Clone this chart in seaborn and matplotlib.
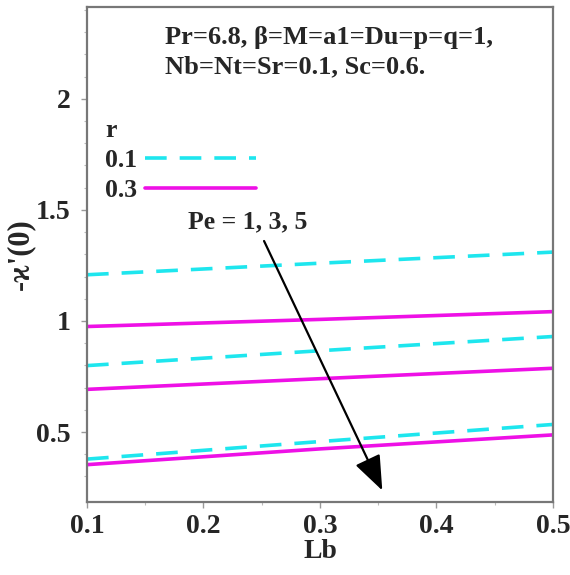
import matplotlib
matplotlib.use("Agg")
import matplotlib.pyplot as plt
from matplotlib.lines import Line2D
import seaborn as sns
import pandas as pd

# ---- data ----
lb = [0.1, 0.3, 0.5]
r01_pe1 = [1.208, 1.260, 1.310]
r01_pe3 = [0.799, 0.866, 0.930]
r01_pe5 = [0.378, 0.457, 0.534]
r03_pe1 = [0.975, 1.007, 1.042]
r03_pe3 = [0.692, 0.740, 0.787]
r03_pe5 = [0.353, 0.424, 0.487]
x_ticks = [0.1, 0.2, 0.3, 0.4, 0.5]
y_ticks = [0.5, 1, 1.5, 2]
y_tick_labels = ["0.5", "1", "1.5", "2"]

rows = []
for r, series in (("0.1", [r01_pe1, r01_pe3, r01_pe5]),
                  ("0.3", [r03_pe1, r03_pe3, r03_pe5])):
    for pe, vals in zip([1, 3, 5], series):
        for x, v in zip(lb, vals):
            rows.append({"Lb": x, "val": v, "r": r, "Pe": pe})
df = pd.DataFrame(rows)

sns.set_theme(style="white")
serif = ["Liberation Serif", "DejaVu Serif"]
plt.rcParams["font.family"] = serif
plt.rcParams["font.weight"] = "bold"

fig = plt.figure(figsize=(5.7, 5.75), dpi=100)
ax = fig.add_axes([0.1526, 0.127, 0.8175, 0.861])

colors = {"0.1": "#1ee6ee", "0.3": "#ee10e6"}
for (r, pe), g in df.groupby(["r", "Pe"]):
    sns.lineplot(data=g, x="Lb", y="val", ax=ax, color=colors[r],
                 linewidth=2.6, legend=False,
                 **({"dashes": False} if r == "0.3" else {}))
    if r == "0.1":
        ax.lines[-1].set_dashes((6.0, 3.6))

ax.set_xlim(0.1, 0.5)
ax.set_ylim(0.185, 2.414)
ax.set_xticks(x_ticks)
ax.set_xticklabels([str(t) for t in x_ticks])
ax.set_yticks(y_ticks)
ax.set_yticklabels(y_tick_labels)
ax.set_xticks([0.15, 0.25, 0.35, 0.45], minor=True)
ax.set_yticks([0.3, 0.4, 0.6, 0.7, 0.8, 0.9, 1.1, 1.2, 1.3, 1.4, 1.6, 1.7,
               1.8, 1.9, 2.1, 2.2, 2.3, 2.4], minor=True)
ax.tick_params(axis="both", which="major", direction="out", length=4,
               width=1, color="#999999", labelsize=20, pad=8)
ax.tick_params(axis="x", which="major", pad=5)
ax.tick_params(axis="both", which="minor", direction="out", length=2.5,
               width=0.8, color="#bbbbbb")
ax.tick_params(axis="x", bottom=True, which="both")
ax.tick_params(axis="y", left=True, which="both")
for lab in ax.get_xticklabels() + ax.get_yticklabels():
    lab.set_fontweight("bold")
for s in ax.spines.values():
    s.set_color("#777777")
    s.set_linewidth(1.6)

ax.set_xlabel("Lb", fontsize=20, fontweight="bold", labelpad=0)
ax.set_ylabel("-ϰ'(0)", fontsize=22, fontweight="bold", labelpad=0)

ax.text(0.167, 0.939, "Pr=6.8, β=M=a1=Du=p=q=1,", transform=ax.transAxes,
        fontsize=19, fontweight="bold", va="center", ha="left")
ax.text(0.167, 0.879, "Nb=Nt=Sr=0.1, Sc=0.6.", transform=ax.transAxes,
        fontsize=19, fontweight="bold", va="center", ha="left")

ax.annotate("", xy=(0.3535, 0.237), xytext=(0.252, 1.36),
            arrowprops=dict(arrowstyle="-|>,head_length=1.8,head_width=0.7",
                            color="black", lw=1.6, shrinkA=0, shrinkB=0))
ax.text(0.187, 1.446, "Pe = 1, 3, 5", fontsize=18.5, fontweight="bold",
        va="center", ha="left")

handles = [Line2D([], [], color=colors["0.1"], lw=2.6, dashes=(6.0, 3.6)),
           Line2D([], [], color=colors["0.3"], lw=2.6)]
leg = ax.legend(handles, ["0.1", "0.3"], title="r", loc="upper left",
                bbox_to_anchor=(0.017, 0.795), frameon=False, markerfirst=False,
                fontsize=18.5, title_fontsize=18.5, handlelength=4.3,
                handletextpad=0.3, labelspacing=0.27, borderaxespad=0)
leg._legend_box.align = "left"
leg.get_title().set_fontweight("bold")
for t in leg.get_texts():
    t.set_fontweight("bold")

fig.savefig("out.png", dpi=100)
